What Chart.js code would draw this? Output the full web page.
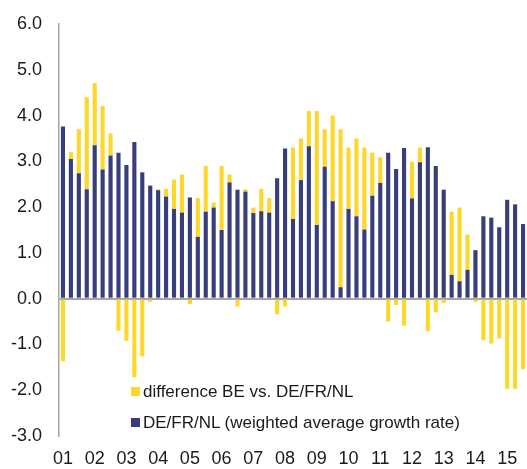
<!DOCTYPE html>
<html>
<head>
<meta charset="UTF-8">
<title>BE vs DE/FR/NL</title>
<script src="https://cdn.jsdelivr.net/npm/chart.js"></script>
<style>
  body { margin: 0; background: #fff; overflow: hidden; }
  #wrap { position: relative; width: 527px; height: 469px; }
  .legend { position: absolute; left: 131px; font: 17px "Liberation Sans", Arial, sans-serif; color: #1a1a1a; white-space: nowrap; }
  .legend span.box { display: inline-block; width: 9px; height: 9px; margin-right: 3px; vertical-align: 1px; }
</style>
</head>
<body>
<div id="wrap">
  <canvas id="chart" width="527" height="469"></canvas>
  <div class="legend" style="top:382px"><span class="box" style="background:#FFD62A"></span>difference BE vs. DE/FR/NL</div>
  <div class="legend" style="top:413px"><span class="box" style="background:#383E79"></span>DE/FR/NL (weighted average growth rate)</div>
</div>
<script>
  // tick labels (one per year, shown at Q1)
  const years = ['01','02','03','04','05','06','07','08','09','10','11','12','13','14','15'];

  // DE/FR/NL weighted average growth rate, quarterly from 2001Q1 to 2015Q3
  const baseRate = [
    3.76, 3.05, 2.74, 2.39, 3.35, 2.82, 3.13, 3.19, 2.92, 3.42,
    2.76, 2.47, 2.37, 2.23, 1.96, 1.88, 2.21, 1.35, 1.90, 1.99,
    1.50, 2.54, 2.38, 2.34, 1.87, 1.91, 1.88, 2.63, 3.28, 1.74,
    2.59, 3.33, 1.61, 2.88, 2.13, 0.25, 1.96, 1.80, 1.51, 2.25,
    2.53, 3.19, 2.83, 3.29, 2.19, 2.98, 3.31, 2.90, 2.38, 0.52,
    0.38, 0.63, 1.06, 1.80, 1.77, 1.56, 2.16, 2.06, 1.63
  ];

  // difference BE vs. DE/FR/NL
  const diffBE = [
    -1.37, 0.15, 0.96, 2.01, 1.36, 1.39, 0.48, -0.70, -0.92, -1.72,
    -1.26, -0.07, 0.02, 0.17, 0.64, 0.83, -0.12, 0.85, 1.00, 0.11,
    1.40, 0.17, -0.17, 0.05, 0.12, 0.49, 0.32, -0.34, -0.17, 1.56,
    0.91, 0.77, 2.49, 0.82, 1.87, 3.45, 1.34, 1.70, 1.79, 0.94,
    0.56, -0.50, -0.14, -0.59, 0.80, 0.32, -0.71, -0.30, -0.09, 1.38,
    1.61, 0.77, -0.07, -0.91, -0.98, -0.87, -1.97, -1.97, -1.54
  ];

  const quarters = [];
  years.forEach(y => { for (let q = 1; q <= 4; q++) quarters.push(y + 'Q' + q); });
  quarters.length = baseRate.length;

  const font = { family: '"Liberation Sans", Arial, sans-serif', size: 18 };

  new Chart(document.getElementById('chart'), {
    type: 'bar',
    data: {
      labels: quarters,
      datasets: [
        {
          label: 'DE/FR/NL (weighted average growth rate)',
          data: baseRate,
          backgroundColor: '#383E79',
          stack: 's',
          barPercentage: 0.52,
          categoryPercentage: 1
        },
        {
          label: 'difference BE vs. DE/FR/NL',
          data: diffBE,
          backgroundColor: '#FFD62A',
          stack: 's',
          barPercentage: 0.52,
          categoryPercentage: 1
        }
      ]
    },
    options: {
      responsive: false,
      animation: false,
      layout: { padding: { top: 24, left: 10, right: 0, bottom: 0 } },
      plugins: { legend: { display: false }, tooltip: { enabled: false } },
      scales: {
        x: {
          stacked: true,
          grid: { display: false, drawTicks: false },
          border: { display: false },
          afterFit: s => { s.height = 33; s.paddingLeft = 0; s.paddingRight = 0; },
          ticks: {
            autoSkip: false,
            maxRotation: 0,
            padding: 12,
            color: '#1a1a1a',
            font: font,
            callback: (v, i) => (i % 4 === 0 ? years[i / 4] : '')
          }
        },
        y: {
          stacked: true,
          min: -3,
          max: 6,
          z: 1,
          afterFit: s => { s.width = 49; s.paddingTop = 0; s.paddingBottom = 0; },
          grid: {
            drawTicks: false,
            lineWidth: 2,
            color: ctx => (ctx.tick && ctx.tick.value === 0 ? '#A6A6A6' : 'rgba(0,0,0,0)')
          },
          border: { display: true, color: '#A6A6A6', width: 1.5 },
          ticks: {
            stepSize: 1,
            padding: 17,
            color: '#1a1a1a',
            font: font,
            callback: v => v.toFixed(1)
          }
        }
      }
    }
  });
</script>
</body>
</html>
